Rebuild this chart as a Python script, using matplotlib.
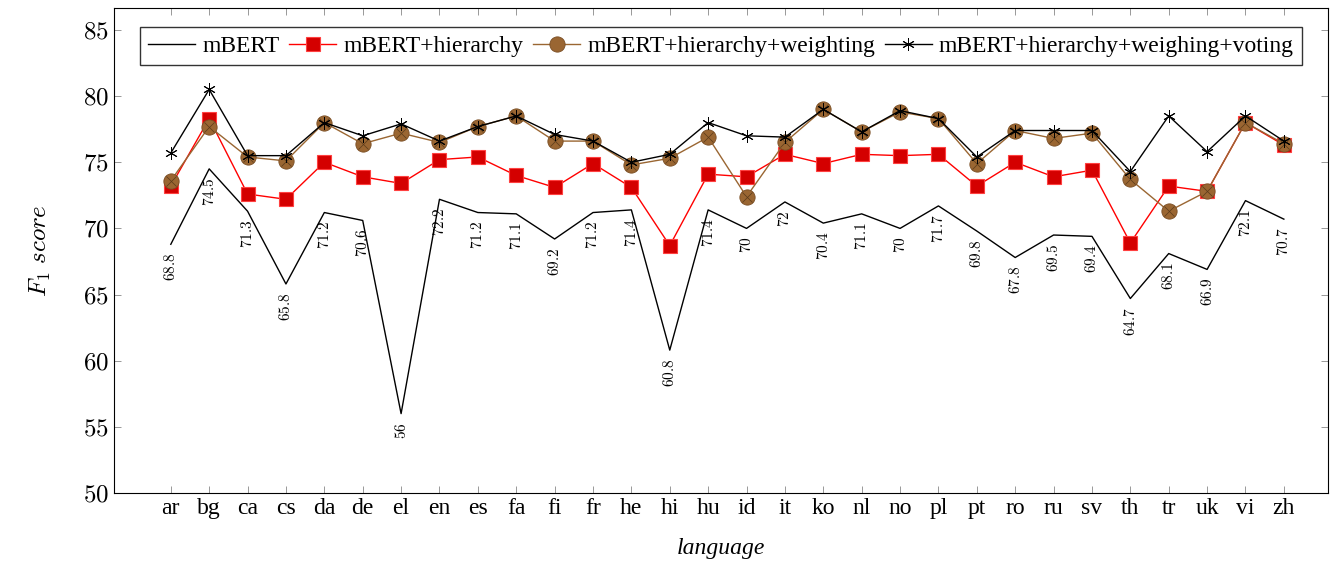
import matplotlib.pyplot as plt

plt.rcParams['mathtext.fontset'] = 'cm'
plt.rcParams['font.family'] = ['Liberation Serif', 'DejaVu Serif']

langs = ['ar', 'bg', 'ca', 'cs', 'da', 'de', 'el', 'en', 'es', 'fa', 'fi', 'fr', 'he', 'hi', 'hu',
         'id', 'it', 'ko', 'nl', 'no', 'pl', 'pt', 'ro', 'ru', 'sv', 'th', 'tr', 'uk', 'vi', 'zh']
mbert = [68.8, 74.5, 71.3, 65.8, 71.2, 70.6, 56, 72.2, 71.2, 71.1, 69.2, 71.2, 71.4, 60.8, 71.4,
         70, 72, 70.4, 71.1, 70, 71.7, 69.8, 67.8, 69.5, 69.4, 64.7, 68.1, 66.9, 72.1, 70.7]
hier = [73.2, 78.3, 72.6, 72.2, 75.0, 73.9, 73.4, 75.2, 75.4, 74.0, 73.1, 74.9, 73.1, 68.7, 74.1,
        73.9, 75.6, 74.9, 75.6, 75.5, 75.6, 73.2, 75.0, 73.9, 74.4, 68.9, 73.2, 72.8, 78.0, 76.3]
weight = [73.6, 77.7, 75.4, 75.1, 78.0, 76.4, 77.2, 76.5, 77.7, 78.5, 76.6, 76.6, 74.8, 75.3, 76.9,
          72.4, 76.5, 79.0, 77.3, 78.8, 78.3, 74.9, 77.4, 76.8, 77.2, 73.7, 71.3, 72.8, 78.0, 76.4]
vote = [75.7, 80.5, 75.5, 75.5, 78.0, 77.0, 77.9, 76.6, 77.7, 78.5, 77.1, 76.6, 75.0, 75.6, 78.0,
        77.0, 76.9, 79.0, 77.3, 78.9, 78.3, 75.4, 77.4, 77.4, 77.4, 74.3, 78.5, 75.8, 78.5, 76.6]
yticks = [50, 55, 60, 65, 70, 75, 80, 85]

x = list(range(len(langs)))
brown = '#9a6632'

fig = plt.figure(figsize=(13.43, 5.67), dpi=100)
ax = fig.add_axes([114 / 1343, 1 - 493 / 567, (1328 - 114) / 1343, (493 - 8) / 567])

ax.plot(x, mbert, color='black', lw=1, label='mBERT')
ax.plot(x, hier, color='red', lw=1, marker='s', ms=10, mfc='#d40000', mec='#ff4040',
        mew=0.8, label='mBERT+hierarchy')
ax.plot(x, weight, color=brown, lw=1, marker='o', ms=11, mfc=brown, mec='#7a4e24',
        mew=0.6, label='mBERT+hierarchy+weighting')
ax.plot(x, weight, color=brown, lw=0, marker='x', ms=6.5, mec='#5a3a1a', mew=0.5)
ax.plot(x, vote, color='black', lw=1, marker=(6, 2, 0), ms=9, mew=0.7,
        label='mBERT+hierarchy+weighing+voting')

for xi, v in zip(x, mbert):
    ax.annotate(f'${v:g}$', (xi, v), xytext=(0, -6), textcoords='offset points',
                rotation=90, ha='center', va='top', fontsize=11)

ax.set_xlim(-1.48, 30.15)
ax.set_ylim(50, 86.66)
ax.set_yticks(yticks)
ax.set_yticklabels([f'${t}$' for t in yticks])
ax.set_xticks(x)
ax.set_xticklabels(langs)
ax.tick_params(direction='in', top=True, right=True, labelsize=17, length=5, width=0.6,
               color='#888888')
ax.tick_params(axis='y', labelsize=18)
ax.set_xlabel('language', fontsize=17, style='italic', labelpad=14)
ax.set_ylabel(r'$F_1\ score$', fontsize=18, labelpad=22)

leg = ax.legend(loc='upper center', ncol=4, fontsize=17, frameon=True, fancybox=False,
                edgecolor='black', handlelength=2, handletextpad=0.3, columnspacing=0.4,
                borderpad=0.35, bbox_to_anchor=(0.5, 0.985))
leg.get_frame().set_linewidth(1)

fig.savefig('out.png', dpi=100)
